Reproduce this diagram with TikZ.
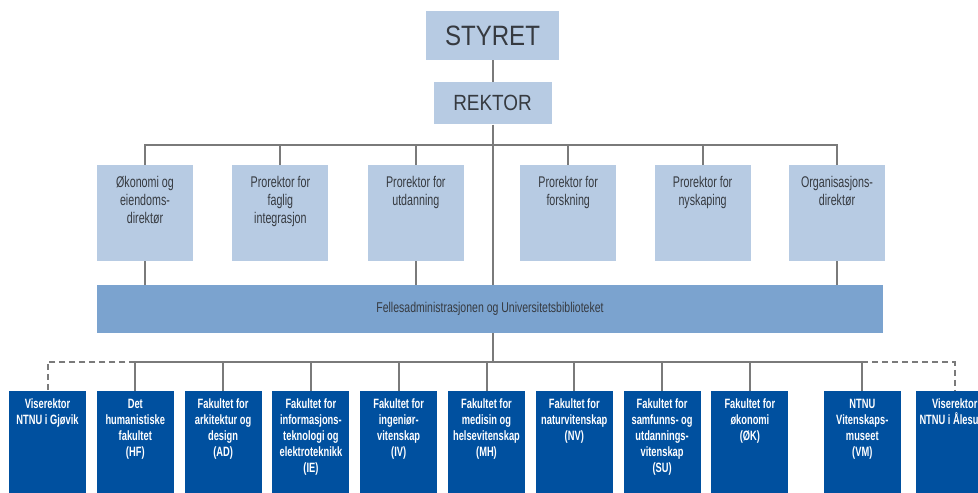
\documentclass[tikz,border=0pt]{standalone}
\usepackage{fontspec}
\usepackage{xcolor}
\usepackage{tikz}
\usetikzlibrary{positioning, calc}

\newfontfamily\headfont[FakeStretch=0.86]{Liberation Sans}
\newfontfamily\condfont[FakeStretch=0.69]{Liberation Sans}
\newfontfamily\barfont[FakeStretch=0.74]{Liberation Sans}

\definecolor{lightbox}{HTML}{B7CBE3}
\definecolor{midbar}{HTML}{7BA3CF}
\definecolor{darkbox}{HTML}{00509F}
\definecolor{linegray}{HTML}{7A7A7A}
\definecolor{textgray}{HTML}{363A40}

\begin{document}
\begin{tikzpicture}[
    x=1pt, y=1pt,
    topbox/.style={
        fill=lightbox,
        text=textgray,
        inner sep=0pt,
        font=\headfont\fontsize{28}{30}\selectfont,
        minimum width=133pt,
        minimum height=49pt
    },
    midbox/.style={
        fill=lightbox,
        inner sep=0pt,
        minimum width=96pt,
        minimum height=96pt
    },
    midlabel/.style={
        anchor=north,
        yshift=-11pt,
        inner sep=0pt,
        align=center,
        text=textgray,
        font=\condfont\fontsize{15.5}{18}\selectfont
    },
    facbox/.style={
        fill=darkbox,
        inner sep=0pt,
        minimum width=77pt,
        minimum height=110pt
    },
    faclabel/.style={
        anchor=north,
        yshift=-8pt,
        inner sep=0pt,
        align=center,
        text=white,
        font=\condfont\bfseries\fontsize{13.5}{16}\selectfont
    },
    link/.style={draw=linegray, line width=2pt},
    dashlink/.style={link, dash pattern=on 6pt off 4pt}
]
\useasboundingbox (0,0) rectangle (978,493);
\clip (0,0) rectangle (978,493);

% Board and rector
\node[topbox] (styret) at (492.5,457.5) {STYRET};
\node[topbox, below=22pt of styret, minimum width=118pt, minimum height=42pt,
      font=\headfont\fontsize{22}{24}\selectfont] (rektor) {REKTOR};

% Staff level
\node[midbox, label={[midlabel]north:Økonomi og\\eiendoms-\\direktør}] (okonomi) at (145,280) {};
\node[midbox, right=39pt of okonomi, label={[midlabel]north:Prorektor for\\faglig\\integrasjon}] (faglig) {};
\node[midbox, right=39pt of faglig, label={[midlabel]north:Prorektor for\\utdanning}] (utdanning) {};
\node[midbox, right=56pt of utdanning, label={[midlabel]north:Prorektor for\\forskning}] (forskning) {};
\node[midbox, right=38pt of forskning, label={[midlabel]north:Prorektor for\\nyskaping}] (nyskaping) {};
\node[midbox, right=38pt of nyskaping, label={[midlabel]north:Organisasjons-\\direktør}] (org) {};

\node[fill=midbar, inner sep=0pt, minimum width=786pt, minimum height=48pt,
      text=textgray, font=\barfont\fontsize{14.2}{16}\selectfont] (felles) at (490,184)
      {Fellesadministrasjonen og Universitetsbiblioteket};

% Faculties
\node[facbox, label={[faclabel]north:Viserektor\\NTNU i Gjøvik}] (gjovik) at (47.5,47) {};
\node[facbox, right=10.4pt of gjovik, label={[faclabel]north:Det\\humanistiske\\fakultet\\(HF)}] (hf) {};
\node[facbox, right=10.4pt of hf, label={[faclabel]north:Fakultet for\\arkitektur og\\design\\(AD)}] (ad) {};
\node[facbox, right=10.4pt of ad, label={[faclabel]north:Fakultet for\\informasjons-\\teknologi og\\elektroteknikk\\(IE)}] (ie) {};
\node[facbox, right=10.4pt of ie, label={[faclabel]north:Fakultet for\\ingeniør-\\vitenskap\\(IV)}] (iv) {};
\node[facbox, right=10.4pt of iv, label={[faclabel]north:Fakultet for\\medisin og\\helsevitenskap\\(MH)}] (mh) {};
\node[facbox, right=10.4pt of mh, label={[faclabel]north:Fakultet for\\naturvitenskap\\(NV)}] (nv) {};
\node[facbox, right=10.4pt of nv, label={[faclabel]north:Fakultet for\\samfunns- og\\utdannings-\\vitenskap\\(SU)}] (su) {};
\node[facbox, right=10.4pt of su, label={[faclabel]north:Fakultet for\\økonomi\\(ØK)}] (ok) {};
\node[facbox, right=35pt of ok, label={[faclabel]north:NTNU\\Vitenskaps-\\museet\\(VM)}] (vm) {};
\node[facbox, right=15pt of vm, label={[faclabel]north:Viserektor\\NTNU i Ålesund}] (alesund) {};

% Lines
\coordinate[below=20pt of rektor.south] (midbus);
\coordinate (lowbus) at ($(felles.south -| rektor.south)+(0,-29)$);

\draw[link] (styret) -- (rektor);
\draw[link] (rektor) -- (felles.north -| rektor);
\draw[link] (okonomi.north) |- (midbus) -| (org.north);
\foreach \n in {faglig, utdanning, forskning, nyskaping}
    \draw[link] (\n.north) -- (\n.north |- midbus);
\foreach \n in {okonomi, utdanning, org}
    \draw[link] (\n.south) -- (\n.south |- felles.north);

\draw[link] (felles.south -| lowbus) -- (lowbus);
\draw[link] (hf.north) |- (lowbus) -| (vm.north);
\foreach \n in {ad, ie, iv, mh, nv, su, ok}
    \draw[link] (\n.north) -- (\n.north |- lowbus);
\draw[dashlink] (hf.north |- lowbus) -| (gjovik.north);
\draw[dashlink] (vm.north |- lowbus) -| (alesund.north);

\end{tikzpicture}
\end{document}
